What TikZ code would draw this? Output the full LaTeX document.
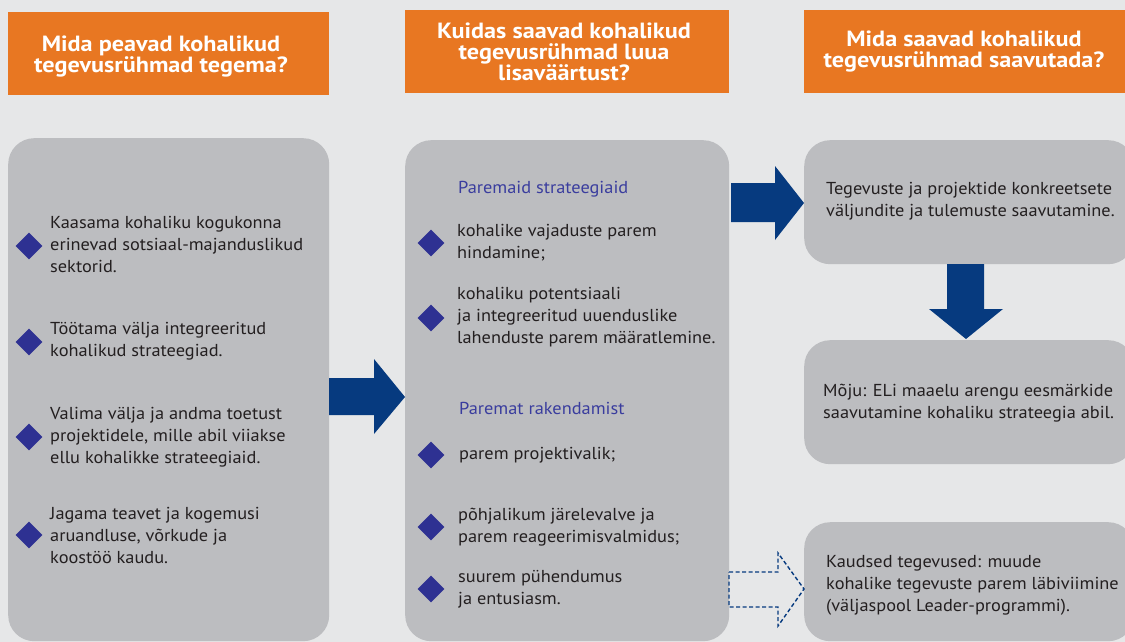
\documentclass[tikz,border=0pt]{standalone}
\usepackage{fontspec}
\setmainfont{PT Sans}
\newfontfamily\bodyfont[FakeStretch=1.06]{PT Sans}
\newfontfamily\hdrfont[FakeStretch=1.1]{PT Sans}
\usetikzlibrary{shapes.geometric}
\definecolor{bg}{HTML}{E6E7E8}
\definecolor{boxg}{HTML}{BCBDC0}
\definecolor{orng}{HTML}{E87722}
\definecolor{navy}{HTML}{063A7F}
\definecolor{dia}{HTML}{2E3192}
\definecolor{txt}{HTML}{231F20}
\definecolor{subh}{HTML}{3A3D9E}
\begin{document}
\begin{tikzpicture}[x=1pt,y=-1pt,
  hdrbox/.style={fill=orng, draw=none, anchor=north west, inner sep=0pt},
  hdrtext/.style={text=white, font=\hdrfont\bfseries\fontsize{22}{21}\selectfont, align=center, inner sep=0pt},
  graybox/.style={fill=boxg, draw=none, rounded corners=26pt, anchor=north west, inner sep=0pt},
  dmd/.style={diamond, fill=dia, draw=none, minimum width=27pt, minimum height=27pt, inner sep=0pt},
  body/.style={text=txt, font=\bodyfont\fontsize{17.3}{22}\selectfont, align=left, anchor=west, inner sep=0pt},
  subhead/.style={text=subh, font=\bodyfont\fontsize{17.3}{22}\selectfont, anchor=west, inner sep=0pt},
  blockarrow/.style={fill=navy, draw=none},
  dasharrow/.style={draw=navy, line width=1.4pt, dash pattern=on 4pt off 2.5pt, fill=none}
]
\useasboundingbox (0,0) rectangle (1125,642);
\fill[bg] (0,0) rectangle (1125,642);

% headers
\node[hdrbox, minimum width=321pt, minimum height=83pt] (H1) at (8,12) {};
\node[hdrbox, minimum width=324pt, minimum height=83pt] (H2) at (405,10) {};
\node[hdrbox, minimum width=325pt, minimum height=83pt] (H3) at (804,10) {};
\node[hdrtext] (H1t) at (161,57) {Mida peavad kohalikud\\tegevusrühmad tegema?};
\node[hdrtext] (H2t) at (564,52) {Kuidas saavad kohalikud\\tegevusrühmad luua\\lisaväärtust?};
\node[hdrtext] (H3t) at (964,52) {Mida saavad kohalikud\\tegevusrühmad saavutada?};

% gray boxes
\node[graybox, minimum width=321pt, minimum height=503pt] (L) at (8,138) {};
\node[graybox, minimum width=324pt, minimum height=501pt] (M) at (405,140) {};
\node[graybox, minimum width=330pt, minimum height=124pt] (R1) at (804,140) {};
\node[graybox, minimum width=330pt, minimum height=124pt] (R2) at (804,340) {};
\node[graybox, minimum width=330pt, minimum height=119pt] (R3) at (804,522) {};

% left column items
\node[dmd] (ld1) at (29,246) {};
\node[body] (lt1) at (50,244) {Kaasama kohaliku kogukonna\\erinevad sotsiaal-majanduslikud\\sektorid.};
\node[dmd] (ld2) at (29,342) {};
\node[body] (lt2) at (50,341) {Töötama välja integreeritud\\kohalikud strateegiad.};
\node[dmd] (ld3) at (29,437) {};
\node[body] (lt3) at (50,437) {Valima välja ja andma toetust\\projektidele, mille abil viiakse\\ellu kohalikke strateegiaid.};
\node[dmd] (ld4) at (29,535) {};
\node[body] (lt4) at (50,535) {Jagama teavet ja kogemusi\\aruandluse, võrkude ja\\koostöö kaudu.};

% middle column items
\node[subhead] (ms1) at (458,189) {Paremaid strateegiaid};
\node[dmd] (md1) at (431,243) {};
\node[body] (mt1) at (457,243) {kohalike vajaduste parem\\hindamine;};
\node[dmd] (md2) at (431,318) {};
\node[body] (mt2) at (457,317) {kohaliku potentsiaali\\ja integreeritud uuenduslike\\lahenduste parem määratlemine.};
\node[subhead] (ms2) at (459,408) {Paremat rakendamist};
\node[dmd] (md3) at (431,455) {};
\node[body] (mt3) at (459,455) {parem projektivalik;};
\node[dmd] (md4) at (431,527) {};
\node[body] (mt4) at (458,527) {põhjalikum järelevalve ja\\parem reageerimisvalmidus;};
\node[dmd] (md5) at (431,589) {};
\node[body] (mt5) at (458,589) {suurem pühendumus\\ja entusiasm.};

% right column texts
\node[body] (rt1) at (826,201) {Tegevuste ja projektide konkreetsete\\väljundite ja tulemuste saavutamine.};
\node[body] (rt2) at (823,403) {Mõju: ELi maaelu arengu eesmärkide\\saavutamine kohaliku strateegia abil.};
\node[body] (rt3) at (826,585) {Kaudsed tegevused: muude\\kohalike tegevuste parem läbiviimine\\(väljaspool Leader-programmi).};

% block arrows
\fill[blockarrow] (329,378) -- (374,378) -- (374,359) -- (405,397) -- (374,434) -- (374,415) -- (329,415) -- cycle;
\fill[blockarrow] (731,183) -- (775,183) -- (775,166) -- (804,203) -- (775,240) -- (775,222) -- (731,222) -- cycle;
\fill[blockarrow] (947,264) -- (984,264) -- (984,309) -- (1003,309) -- (966,339) -- (929,309) -- (947,309) -- cycle;
\draw[dasharrow] (729,572) -- (778,572) -- (778,553) -- (804,589) -- (778,626) -- (778,607) -- (729,607) -- cycle;
\end{tikzpicture}
\end{document}
